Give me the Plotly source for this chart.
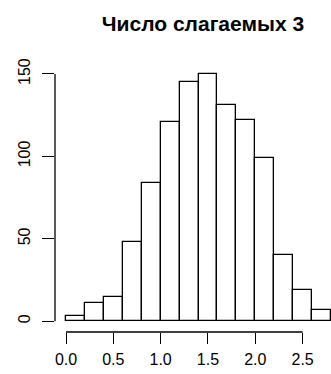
import plotly.graph_objects as go

bin_left = [0.0, 0.2, 0.4, 0.6, 0.8, 1.0, 1.2, 1.4, 1.6, 1.8, 2.0, 2.2, 2.4, 2.6]
counts = [3, 11, 15, 48, 84, 121, 145, 150, 131, 122, 99, 40, 19, 7]
bin_width = 0.2
x_ticks = [0.0, 0.5, 1.0, 1.5, 2.0, 2.5]
x_ticklabels = ["0.0", "0.5", "1.0", "1.5", "2.0", "2.5"]
y_ticks = [0, 50, 100, 150]
title_text = "Число слагаемых 3"

centers = [b + bin_width / 2 for b in bin_left]

fig = go.Figure()
fig.add_trace(go.Bar(
    x=centers, y=counts, width=bin_width,
    marker=dict(color="white", line=dict(color="black", width=1.3)),
    showlegend=False, hoverinfo="skip",
))

font = "Liberation Sans, Arial, sans-serif"
fig.update_layout(
    width=331, height=374,
    margin=dict(l=55, r=0, t=40, b=42),
    paper_bgcolor="white", plot_bgcolor="white",
    title=dict(text="<b>" + title_text + "</b>", x=203 / 331, xanchor="center",
               y=1 - 24 / 374, yanchor="middle",
               font=dict(family=font, size=21, color="black")),
    xaxis=dict(range=[-11 / 94.64, 2.8], showgrid=False, zeroline=False, showline=False,
               tickmode="array", tickvals=x_ticks, ticktext=x_ticklabels,
               ticks="outside", ticklen=11, tickwidth=1.3, tickcolor="black",
               ticklabelstandoff=2,
               tickfont=dict(family=font, size=16, color="black")),
    yaxis=dict(range=[-6.5, 170.6], showgrid=False, zeroline=False, showline=False,
               tickmode="array", tickvals=y_ticks,
               ticks="outside", ticklen=12, tickwidth=1.3, tickcolor="black",
               tickangle=-90, ticklabelstandoff=6,
               tickfont=dict(family=font, size=16, color="black")),
    bargap=0,
)
# R-style axis lines spanning only the tick range
fig.add_shape(type="line", xref="paper", yref="y", x0=0, x1=0, y0=y_ticks[0], y1=y_ticks[-1],
              line=dict(color="black", width=1.3))
fig.add_shape(type="line", xref="x", yref="paper", x0=x_ticks[0], x1=x_ticks[-1], y0=0, y1=0,
              line=dict(color="black", width=1.3))

fig.write_html("out.html")
